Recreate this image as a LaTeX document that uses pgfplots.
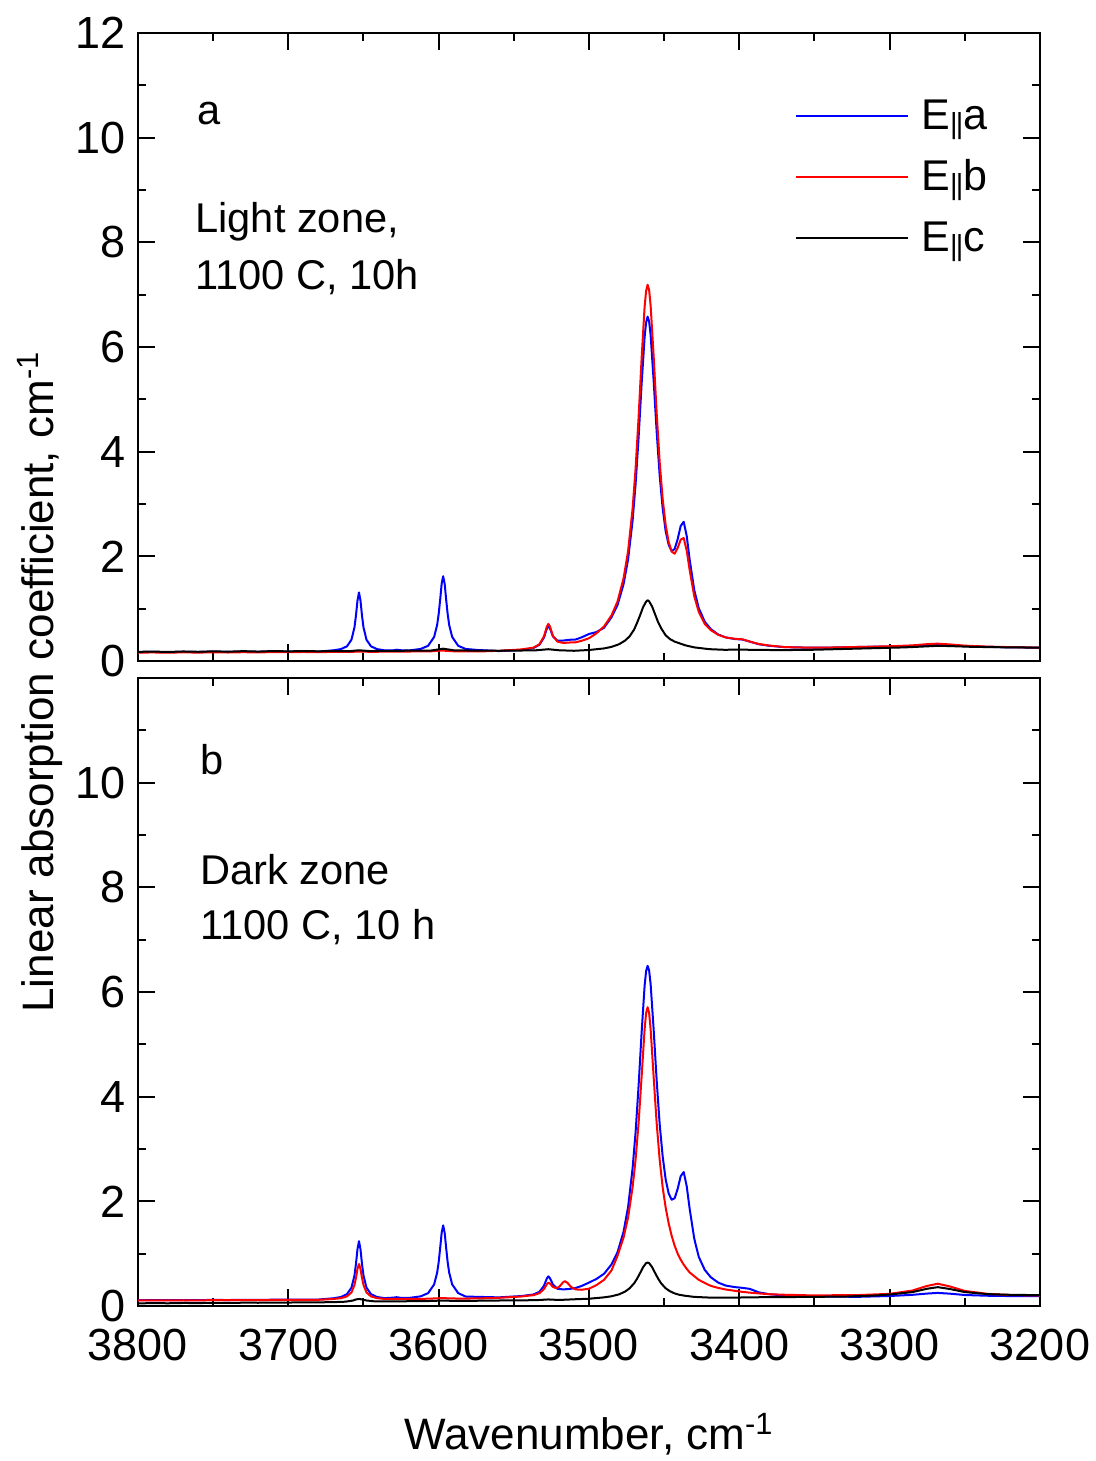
\documentclass[border=0pt]{standalone}
\usepackage{fontspec}
\setmainfont{Liberation Sans}
\usepackage{pgfplots}
\pgfplotsset{compat=1.18}

\newcommand{\ticksize}{\fontsize{22.5}{26}\selectfont}
\newcommand{\labsize}{\fontsize{22}{26}\selectfont}
\newcommand{\txtsize}{\fontsize{20.8}{24}\selectfont}
\newcommand{\bars}{\raisebox{-2.3pt}{\fontsize{14.5}{14}\selectfont |\kern-0.9pt|}}

\pgfplotsset{
  spec/.style={
    scale only axis, width=451pt, height=314pt, anchor=south west,
    xmin=3200, xmax=3800, x dir=reverse,
    ymin=0, ymax=12,
    xtick={3200,3300,...,3800},
    ytick={0,2,...,12},
    minor x tick num=1, minor y tick num=1,
    xtick pos=both, ytick pos=both,
    xticklabel pos=lower, yticklabel pos=left,
    tick align=inside,
    major tick length=8.5pt, minor tick length=4pt,
    tick style={line width=1pt, black},
    axis line style={line width=1pt},
    tick label style={font=\ticksize},
    xticklabel style={yshift=-8pt},
    yticklabel style={xshift=-2.5pt},
    /pgf/number format/assume math mode=true,
    /pgf/number format/1000 sep={},
    every axis plot/.append style={line width=1pt, mark=none, line join=round},
  }
}

\begin{document}
\begin{tikzpicture}[x=1pt,y=1pt]
\path[use as bounding box] (0,0) rectangle (548,730.5);

% panel a
\begin{axis}[spec, at={(69pt,400pt)}, xticklabels={},
  legend style={draw=none, fill=none, at={(axis description cs:0.7284,0.8965)},
    anchor=north west, inner sep=0pt, row sep=11pt, font=\fontsize{21.5}{24}\selectfont,
    nodes={inner sep=0pt, text height=15.5pt, text depth=4pt}},
  legend image code/.code={\draw[#1] (0pt,0.8pt) -- (56pt,0.8pt); \path (62pt,0pt);},
  legend cell align=left]
\addplot[blue] coordinates {
(3800,0.170)(3790,0.175)(3780,0.168)(3770,0.176)(3760,0.170)(3750,0.178)(3740,0.172)(3730,0.180)(3720,0.174)(3710,0.182)(3700,0.178)(3690,0.183)(3680,0.179)(3670,0.204)(3665,0.227)(3661,0.280)(3658,0.406)(3656,0.643)(3655,0.869)(3654,1.154)(3653,1.310)(3652,1.154)(3651,0.869)(3650,0.643)(3648,0.406)(3645,0.280)(3641,0.227)(3636,0.204)(3630,0.205)(3628,0.215)(3625,0.205)(3620,0.200)(3612,0.230)(3607,0.290)(3603,0.460)(3601,0.690)(3600,0.895)(3599,1.170)(3598,1.475)(3597,1.620)(3596,1.475)(3595,1.170)(3594,0.895)(3593,0.690)(3591,0.460)(3587,0.290)(3582,0.230)(3574,0.210)(3560,0.190)(3545,0.210)(3537,0.247)(3533,0.309)(3530,0.445)(3528,0.619)(3527,0.665)(3526,0.627)(3524,0.470)(3521,0.390)(3517,0.391)(3513,0.405)(3509,0.410)(3505,0.450)(3500,0.516)(3495,0.553)(3490,0.635)(3485,0.837)(3481,1.070)(3477,1.470)(3474,1.940)(3471,2.680)(3469,3.380)(3467,4.270)(3465,5.290)(3463,6.190)(3462,6.470)(3461,6.580)(3460,6.490)(3459,6.230)(3457,5.360)(3455,4.390)(3453,3.550)(3451,2.920)(3449,2.480)(3447,2.220)(3445,2.100)(3443,2.140)(3441,2.330)(3439,2.580)(3437,2.660)(3435,2.390)(3433,1.930)(3430,1.360)(3427,1.010)(3423,0.750)(3419,0.610)(3414,0.505)(3409,0.450)(3403,0.420)(3398,0.410)(3393,0.370)(3387,0.320)(3380,0.290)(3370,0.265)(3355,0.255)(3340,0.256)(3320,0.268)(3300,0.277)(3285,0.288)(3275,0.305)(3268,0.310)(3260,0.300)(3250,0.284)(3235,0.270)(3220,0.260)(3200,0.255)
};
\addlegendentry{E\bars a}
\addplot[red] coordinates {
(3800,0.160)(3790,0.163)(3780,0.158)(3770,0.165)(3760,0.160)(3750,0.166)(3740,0.162)(3730,0.168)(3720,0.164)(3710,0.170)(3700,0.168)(3690,0.172)(3680,0.170)(3670,0.173)(3660,0.172)(3653,0.180)(3645,0.175)(3635,0.178)(3625,0.180)(3615,0.182)(3605,0.185)(3598,0.200)(3590,0.185)(3580,0.182)(3570,0.185)(3560,0.194)(3545,0.221)(3537,0.255)(3533,0.319)(3530,0.467)(3528,0.659)(3527,0.708)(3526,0.663)(3524,0.479)(3521,0.370)(3517,0.345)(3513,0.353)(3509,0.357)(3505,0.385)(3500,0.434)(3495,0.530)(3490,0.660)(3485,0.872)(3481,1.140)(3477,1.580)(3474,2.100)(3471,2.910)(3469,3.680)(3467,4.660)(3465,5.780)(3463,6.770)(3462,7.070)(3461,7.190)(3460,7.090)(3459,6.790)(3457,5.830)(3455,4.750)(3453,3.810)(3451,3.100)(3449,2.600)(3447,2.270)(3445,2.090)(3443,2.050)(3441,2.160)(3439,2.320)(3437,2.350)(3435,2.110)(3433,1.730)(3430,1.240)(3427,0.940)(3423,0.710)(3419,0.590)(3414,0.500)(3409,0.450)(3403,0.424)(3398,0.414)(3393,0.372)(3387,0.325)(3380,0.295)(3370,0.266)(3355,0.256)(3340,0.257)(3320,0.269)(3300,0.281)(3285,0.298)(3275,0.322)(3268,0.331)(3260,0.317)(3250,0.293)(3235,0.275)(3220,0.265)(3200,0.255)
};
\addlegendentry{E\bars b}
\addplot[black] coordinates {
(3800,0.175)(3790,0.180)(3780,0.172)(3770,0.182)(3760,0.176)(3750,0.185)(3740,0.178)(3730,0.188)(3720,0.180)(3710,0.190)(3700,0.184)(3690,0.190)(3680,0.185)(3670,0.190)(3660,0.186)(3653,0.205)(3646,0.190)(3635,0.193)(3625,0.195)(3615,0.198)(3605,0.200)(3597,0.235)(3590,0.205)(3580,0.200)(3570,0.198)(3560,0.195)(3545,0.200)(3535,0.205)(3527,0.225)(3520,0.205)(3510,0.195)(3500,0.210)(3490,0.240)(3485,0.270)(3480,0.320)(3476,0.390)(3473,0.470)(3470,0.600)(3468,0.730)(3466,0.875)(3464,1.030)(3462,1.135)(3461,1.160)(3460,1.140)(3458,1.040)(3456,0.890)(3454,0.740)(3452,0.625)(3449,0.490)(3446,0.416)(3443,0.370)(3440,0.340)(3436,0.300)(3430,0.260)(3420,0.226)(3410,0.214)(3400,0.217)(3385,0.211)(3370,0.208)(3350,0.215)(3330,0.230)(3310,0.245)(3290,0.260)(3275,0.280)(3268,0.290)(3260,0.285)(3245,0.270)(3225,0.262)(3200,0.255)
};
\addlegendentry{E\bars c}
\end{axis}

% panel b
\begin{axis}[spec, at={(69pt,77.5pt)}, yticklabels={0,2,4,6,8,10,{}}]
\addplot[blue] coordinates {
(3800,0.110)(3790,0.112)(3780,0.110)(3770,0.114)(3760,0.113)(3750,0.116)(3740,0.114)(3730,0.118)(3720,0.117)(3710,0.120)(3700,0.120)(3690,0.122)(3680,0.123)(3670,0.148)(3665,0.172)(3661,0.226)(3658,0.350)(3656,0.583)(3655,0.805)(3654,1.085)(3653,1.238)(3652,1.085)(3651,0.805)(3650,0.583)(3648,0.350)(3645,0.226)(3641,0.172)(3636,0.150)(3630,0.160)(3628,0.168)(3625,0.155)(3620,0.153)(3612,0.184)(3607,0.246)(3603,0.412)(3601,0.638)(3600,0.835)(3599,1.106)(3598,1.399)(3597,1.540)(3596,1.399)(3595,1.106)(3594,0.835)(3593,0.638)(3591,0.412)(3587,0.246)(3582,0.180)(3574,0.175)(3560,0.165)(3545,0.190)(3537,0.220)(3533,0.270)(3530,0.383)(3528,0.528)(3527,0.566)(3526,0.534)(3524,0.412)(3521,0.329)(3517,0.317)(3513,0.326)(3509,0.343)(3505,0.382)(3500,0.447)(3495,0.518)(3490,0.615)(3485,0.795)(3481,1.030)(3477,1.420)(3474,1.890)(3471,2.630)(3469,3.320)(3467,4.210)(3465,5.220)(3463,6.120)(3462,6.400)(3461,6.500)(3460,6.410)(3459,6.150)(3457,5.290)(3455,4.320)(3453,3.480)(3451,2.860)(3449,2.420)(3447,2.150)(3445,2.030)(3443,2.060)(3441,2.240)(3439,2.480)(3437,2.560)(3435,2.290)(3433,1.850)(3430,1.290)(3427,0.940)(3423,0.690)(3419,0.550)(3414,0.446)(3409,0.390)(3403,0.361)(3398,0.347)(3393,0.327)(3387,0.260)(3380,0.225)(3370,0.200)(3355,0.185)(3340,0.178)(3320,0.176)(3300,0.191)(3285,0.213)(3275,0.238)(3268,0.250)(3260,0.236)(3250,0.210)(3235,0.196)(3220,0.190)(3200,0.190)
};
\addplot[red] coordinates {
(3800,0.105)(3790,0.108)(3780,0.106)(3770,0.110)(3760,0.108)(3750,0.112)(3740,0.110)(3730,0.114)(3720,0.112)(3710,0.116)(3700,0.115)(3690,0.118)(3680,0.118)(3670,0.134)(3665,0.149)(3661,0.183)(3658,0.259)(3656,0.402)(3655,0.538)(3654,0.709)(3653,0.803)(3652,0.709)(3651,0.538)(3650,0.402)(3648,0.259)(3645,0.183)(3641,0.150)(3636,0.135)(3625,0.135)(3610,0.137)(3597,0.150)(3585,0.140)(3570,0.148)(3560,0.156)(3545,0.182)(3537,0.207)(3533,0.244)(3530,0.321)(3528,0.418)(3527,0.446)(3526,0.431)(3524,0.364)(3522,0.343)(3520,0.362)(3518,0.426)(3517,0.459)(3516,0.475)(3514,0.434)(3512,0.365)(3509,0.318)(3505,0.310)(3500,0.330)(3495,0.400)(3490,0.500)(3485,0.680)(3481,0.960)(3477,1.310)(3474,1.690)(3471,2.270)(3469,2.800)(3467,3.500)(3465,4.380)(3463,5.290)(3462,5.600)(3461,5.710)(3460,5.600)(3459,5.290)(3457,4.380)(3455,3.500)(3453,2.800)(3451,2.270)(3449,1.880)(3447,1.580)(3445,1.340)(3443,1.150)(3441,1.000)(3439,0.885)(3437,0.790)(3435,0.710)(3433,0.640)(3430,0.570)(3427,0.500)(3423,0.440)(3419,0.385)(3414,0.345)(3409,0.315)(3403,0.290)(3398,0.270)(3393,0.255)(3387,0.240)(3380,0.225)(3370,0.215)(3355,0.205)(3340,0.205)(3320,0.210)(3300,0.232)(3285,0.295)(3275,0.384)(3268,0.426)(3260,0.374)(3250,0.288)(3235,0.232)(3220,0.210)(3200,0.200)
};
\addplot[black] coordinates {
(3800,0.050)(3790,0.055)(3780,0.052)(3770,0.058)(3760,0.056)(3750,0.060)(3740,0.058)(3730,0.063)(3720,0.062)(3710,0.066)(3700,0.066)(3690,0.070)(3680,0.070)(3670,0.074)(3662,0.082)(3657,0.105)(3655,0.125)(3653,0.135)(3651,0.125)(3648,0.105)(3643,0.090)(3635,0.086)(3625,0.090)(3615,0.092)(3605,0.096)(3597,0.105)(3590,0.097)(3575,0.100)(3560,0.105)(3545,0.108)(3535,0.112)(3527,0.125)(3520,0.115)(3510,0.128)(3500,0.139)(3490,0.165)(3485,0.186)(3480,0.222)(3476,0.275)(3473,0.338)(3470,0.433)(3468,0.522)(3466,0.630)(3464,0.742)(3462,0.820)(3461,0.830)(3460,0.820)(3458,0.742)(3456,0.630)(3454,0.522)(3452,0.433)(3449,0.338)(3446,0.280)(3443,0.240)(3440,0.215)(3436,0.195)(3430,0.174)(3420,0.161)(3410,0.162)(3400,0.162)(3385,0.168)(3370,0.170)(3350,0.175)(3330,0.180)(3310,0.200)(3300,0.220)(3285,0.265)(3275,0.330)(3268,0.360)(3260,0.325)(3250,0.266)(3235,0.227)(3220,0.214)(3200,0.207)
};
\end{axis}

% texts
\node[anchor=base west, inner sep=0pt, font=\txtsize] at (98.5,668) {a};
\node[anchor=base west, inner sep=0pt, font=\txtsize] at (97.5,614) {Light zone,};
\node[anchor=base west, inner sep=0pt, font=\txtsize] at (97.5,585.5) {1100 C, 10h};
\node[anchor=base west, inner sep=0pt, font=\txtsize] at (100,343) {b};
\node[anchor=base west, inner sep=0pt, font=\txtsize] at (100,288) {Dark zone};
\node[anchor=base west, inner sep=0pt, font=\txtsize] at (100,260.5) {1100 C, 10 h};
\node[anchor=base, inner sep=0pt, rotate=90, font=\labsize] at (26.75,389.5) {Linear absorption coefficient, cm\textsuperscript{-1}};
\node[anchor=base, inner sep=0pt, font=\labsize] at (294.5,5.5) {Wavenumber, cm\textsuperscript{-1}};
\end{tikzpicture}
\end{document}
